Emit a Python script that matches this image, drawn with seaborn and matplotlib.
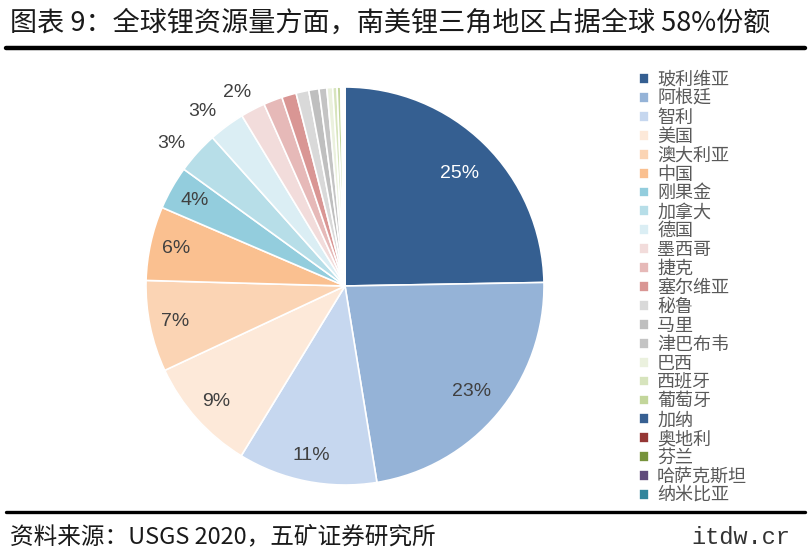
import matplotlib
matplotlib.use("Agg")
import math
import matplotlib.pyplot as plt
import seaborn as sns

sns.set_theme(style="white")
plt.rcParams['font.family'] = ['Noto Sans CJK SC', 'DejaVu Sans']

countries = ["玻利维亚", "阿根廷", "智利", "美国", "澳大利亚", "中国", "刚果金", "加拿大",
             "德国", "墨西哥", "捷克", "塞尔维亚", "秘鲁", "马里", "津巴布韦", "巴西",
             "西班牙", "葡萄牙", "加纳", "奥地利", "芬兰", "哈萨克斯坦", "纳米比亚"]
resources = [21, 19.3, 9.6, 7.9, 6.3, 5.1, 3.0, 2.9, 2.5, 1.7, 1.3, 1.0, 0.88, 0.7,
             0.54, 0.4, 0.3, 0.25, 0.09, 0.05, 0.05, 0.05, 0.05]
colors = ["#355F91", "#95B3D7", "#C6D7EF", "#FDE9D9", "#FBD4B4", "#FAC090", "#93CDDD",
          "#B7DEE8", "#DBEEF4", "#F2DCDB", "#E6B9B8", "#D99694", "#D9D9D9", "#BFBFBF",
          "#C4C4C4", "#EBF1DE", "#D7E4BD", "#C3D69B", "#376092", "#953735", "#77933C",
          "#604A7B", "#31859C"]

title = "图表 9：全球锂资源量方面，南美锂三角地区占据全球 58%份额"
source = "资料来源：USGS 2020，五矿证券研究所"

fig = plt.figure(figsize=(8.09, 5.56), dpi=100)
fig.patch.set_facecolor("white")

# pie axes: centre (345,286) px, radius 199 px
R = 199
cx, cy = 345, 286
half = R * 1.25
ax = fig.add_axes([(cx - half) / 809, (556 - cy - half) / 556, 2 * half / 809, 2 * half / 556])

total = sum(resources)

def fmt(p):
    return f"{p:.0f}%" if p >= 1.8 else ""

wedges, texts, autotexts = ax.pie(
    resources, colors=colors, startangle=90, counterclock=False,
    autopct=fmt, pctdistance=0.87,
    wedgeprops=dict(edgecolor="white", linewidth=1.2),
    textprops=dict(family="Liberation Sans", fontsize=14, color="#404040"))
ax.set_xlim(-1.25, 1.25)
ax.set_ylim(-1.25, 1.25)
ax.set_aspect("equal")
ax.axis("off")

cum = 0
for i, (v, t) in enumerate(zip(resources, autotexts)):
    mid = 90 - (cum + v / 2) / total * 360
    cum += v
    r = None
    if i == 0:
        t.set_color("white")
        r, ang = 0.81, mid - 1
    elif i == 1:
        r, ang = 0.83, mid
    elif i in (7, 8):
        r, ang = 1.13, mid + 2.8
    elif i == 9:
        r, ang = 1.11, mid + 1.5
    if r is not None:
        t.set_position((r * math.cos(math.radians(ang)), r * math.sin(math.radians(ang))))

leg = ax.legend(wedges, countries, loc="upper left",
                bbox_to_anchor=(639 / 809, 1 - 71 / 556), bbox_transform=fig.transFigure,
                frameon=False, fontsize=13, handlelength=0.55, handleheight=0.55,
                handletextpad=0.45, labelspacing=0.05, borderaxespad=0, borderpad=0)
for txt in leg.get_texts():
    txt.set_color("#595959")

fig.text(10 / 809, 1 - 23 / 556, title, fontsize=19.5, color="#1a1a1a", va="center", ha="left")
fig.add_artist(plt.Line2D([6 / 809, 805 / 809], [1 - 48 / 556, 1 - 48 / 556], color="black", lw=3.2))
fig.add_artist(plt.Line2D([6 / 809, 805 / 809], [1 - 512 / 556, 1 - 512 / 556], color="black", lw=2.4))
fig.text(10 / 809, 1 - 537 / 556, source, fontsize=17, color="#1a1a1a", va="center", ha="left")
fig.text(790 / 809, 1 - 537 / 556, "itdw.cr", fontsize=17, color="#333333", va="center", ha="right",
         family="Liberation Mono")

fig.savefig("out.png", dpi=100, facecolor="white")
